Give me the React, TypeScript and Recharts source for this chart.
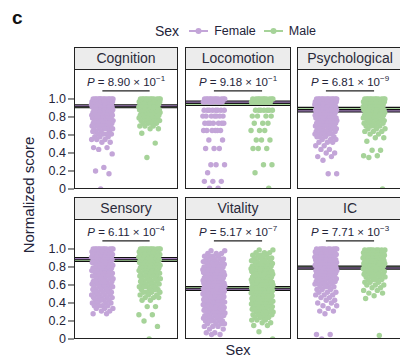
import React from "react";
import { ScatterChart, Scatter, XAxis, YAxis, ReferenceLine } from "recharts";

const facets = ["Cognition", "Locomotion", "Psychological", "Sensory", "Vitality", "IC"];
const pMantissa = ["8.90", "9.18", "6.81", "6.11", "5.17", "7.71"];
const pExponent = ["1", "1", "9", "4", "7", "3"];
const femaleMean = [0.925, 0.965, 0.868, 0.893, 0.552, 0.788];
const maleMean = [0.915, 0.94, 0.895, 0.872, 0.572, 0.8];
const yTicks = [0, 0.2, 0.4, 0.6, 0.8, 1.0];

// [score, number of people with that score]
const cognitionFemale = [
  [1.0, 14], [0.97, 12], [0.94, 12], [0.91, 11], [0.88, 10], [0.85, 10], [0.82, 9], [0.79, 9],
  [0.76, 8], [0.73, 7], [0.7, 6], [0.67, 5], [0.64, 4], [0.61, 4], [0.58, 3], [0.55, 3],
  [0.52, 2], [0.46, 2], [0.44, 1], [0.39, 1], [0.24, 1], [0.2, 1], [0.17, 1], [0.0, 1],
];
const cognitionMale = [
  [1.0, 12], [0.97, 11], [0.94, 10], [0.91, 10], [0.88, 9], [0.85, 8], [0.82, 7], [0.79, 6],
  [0.76, 5], [0.73, 4], [0.7, 3], [0.67, 2], [0.62, 1], [0.51, 1], [0.35, 1],
];
const locomotionFemale = [
  [1.0, 12], [0.967, 10], [0.875, 8], [0.81, 7], [0.73, 7], [0.65, 6], [0.544, 2], [0.45, 3],
  [0.27, 3], [0.18, 1], [0.085, 3], [0.01, 2],
];
const locomotionMale = [
  [1.0, 11], [0.967, 9], [0.875, 7], [0.81, 4], [0.73, 3], [0.65, 3], [0.544, 3], [0.45, 3],
  [0.27, 2], [0.18, 1], [0.01, 1],
];
const psychologicalFemale = [
  [1.0, 13], [0.97, 12], [0.94, 11], [0.91, 11], [0.88, 10], [0.85, 10], [0.82, 9], [0.79, 9],
  [0.76, 8], [0.73, 8], [0.7, 7], [0.67, 7], [0.64, 6], [0.61, 5], [0.58, 4], [0.55, 3],
  [0.52, 3], [0.48, 2], [0.44, 2], [0.4, 2], [0.36, 2], [0.32, 1], [0.17, 2],
];
const psychologicalMale = [
  [1.0, 12], [0.97, 11], [0.94, 10], [0.91, 10], [0.88, 9], [0.85, 8], [0.82, 8], [0.79, 7],
  [0.76, 6], [0.73, 5], [0.7, 4], [0.67, 3], [0.64, 3], [0.61, 2], [0.57, 2], [0.53, 1],
  [0.43, 2], [0.37, 2], [0.35, 1], [0.0, 1],
];
const sensoryFemale = [
  [1.0, 12], [0.97, 9], [0.94, 9], [0.91, 8], [0.88, 8], [0.85, 8], [0.82, 7], [0.79, 7],
  [0.76, 7], [0.73, 7], [0.7, 7], [0.67, 6], [0.64, 6], [0.61, 6], [0.58, 6], [0.55, 5],
  [0.52, 5], [0.49, 5], [0.46, 5], [0.43, 4], [0.4, 4], [0.37, 4], [0.34, 3], [0.31, 2], [0.28, 2],
];
const sensoryMale = [
  [1.0, 12], [0.97, 9], [0.94, 9], [0.91, 8], [0.88, 8], [0.85, 7], [0.82, 7], [0.79, 7],
  [0.76, 6], [0.73, 6], [0.7, 6], [0.67, 6], [0.64, 5], [0.61, 5], [0.58, 5], [0.55, 4],
  [0.52, 4], [0.49, 3], [0.46, 3], [0.43, 2], [0.36, 2], [0.27, 2], [0.2, 1], [0.14, 1], [0.0, 1],
];
const vitalityFemale = [
  [0.98, 2], [0.95, 3], [0.92, 4], [0.89, 5], [0.86, 6], [0.83, 7], [0.8, 7], [0.77, 8],
  [0.74, 8], [0.71, 9], [0.68, 9], [0.65, 9], [0.62, 10], [0.59, 10], [0.56, 10], [0.53, 10],
  [0.5, 10], [0.47, 9], [0.44, 9], [0.41, 9], [0.38, 8], [0.35, 8], [0.32, 7], [0.29, 7],
  [0.26, 6], [0.23, 5], [0.2, 5], [0.17, 4], [0.14, 3], [0.11, 2], [0.07, 2], [0.05, 2],
];
const vitalityMale = [
  [0.99, 2], [0.96, 3], [0.93, 4], [0.9, 5], [0.87, 6], [0.84, 7], [0.81, 7], [0.78, 8],
  [0.75, 8], [0.72, 9], [0.69, 9], [0.66, 9], [0.63, 10], [0.6, 10], [0.57, 10], [0.54, 10],
  [0.51, 10], [0.48, 9], [0.45, 9], [0.42, 9], [0.39, 8], [0.36, 8], [0.33, 7], [0.3, 6],
  [0.27, 5], [0.24, 4], [0.21, 3], [0.18, 2], [0.15, 2], [0.08, 1], [0.0, 1],
];
const icFemale = [
  [1.0, 10], [0.97, 11], [0.94, 11], [0.91, 11], [0.88, 10], [0.85, 10], [0.82, 10], [0.79, 9],
  [0.76, 9], [0.73, 8], [0.7, 8], [0.67, 7], [0.64, 6], [0.61, 5], [0.58, 4], [0.55, 3],
  [0.52, 3], [0.49, 3], [0.46, 2], [0.43, 2], [0.4, 2], [0.37, 2], [0.34, 1], [0.31, 2],
  [0.28, 1], [0.05, 2], [0.0, 1],
];
const icMale = [
  [0.99, 9], [0.96, 10], [0.93, 10], [0.9, 10], [0.87, 9], [0.84, 9], [0.81, 8], [0.78, 8],
  [0.75, 7], [0.72, 6], [0.69, 5], [0.66, 4], [0.63, 3], [0.6, 3], [0.57, 2], [0.54, 2],
  [0.51, 2], [0.48, 1], [0.45, 1], [0.04, 1],
];

const femaleBins = [cognitionFemale, locomotionFemale, psychologicalFemale, sensoryFemale, vitalityFemale, icFemale];
const maleBins = [cognitionMale, locomotionMale, psychologicalMale, sensoryMale, vitalityMale, icMale];

const PURPLE = "#c3a5d8";
const GREEN = "#a6d399";
const INK = "#24243a";
const FONT = "'Liberation Sans', Arial, sans-serif";

const COL_X = [74, 185, 297];
const COL_W = [104, 106, 106];
const ROW_Y = [47, 197];
const HEAD_H = 22;
const PLOT_H = 120;
const AXIS_W = 34;
const JITTER = 0.23;

// spread each group sideways like a jittered strip plot (golden-ratio steps, no randomness)
function toPoints(bins: number[][], group: number) {
  const pts: { pos: number; score: number }[] = [];
  let i = 0;
  bins.forEach(([v, n]) => {
    for (let k = 0; k < n; k++) {
      const f = (i * 0.618034 + 0.37) % 1;
      pts.push({ pos: group + JITTER * (2 * f - 1), score: v });
      i++;
    }
  });
  return pts;
}

const dot = (color: string) => (props: any) => (
  <circle cx={props.cx} cy={props.cy} r={2.7} fill={color} />
);

function Panel({ idx }: { idx: number }) {
  const col = idx % 3;
  const row = Math.floor(idx / 3);
  const x = COL_X[col];
  const w = COL_W[col];
  const top = ROW_Y[row];
  const withAxis = col === 0;
  const chartLeft = x - (withAxis ? AXIS_W : 0);
  const chartW = w + (withAxis ? AXIS_W : 0);

  return (
    <>
      <div style={{ position: "absolute", left: chartLeft, top: top + HEAD_H }}>
        <ScatterChart width={chartW} height={PLOT_H + 10} margin={{ top: 0, right: 0, bottom: 10, left: 0 }}>
          <XAxis type="number" dataKey="pos" domain={[-0.6, 1.6]} hide />
          <YAxis
            type="number"
            dataKey="score"
            domain={[0, 1.333]}
            allowDataOverflow
            ticks={yTicks}
            interval={0}
            hide={!withAxis}
            width={AXIS_W}
            axisLine={false}
            tickSize={6}
            tickLine={{ stroke: "#222" }}
            tick={{ fontSize: 12.5, fill: INK, fontFamily: FONT }}
            tickFormatter={(v: number) => (v === 0 ? "0" : v.toFixed(1))}
          />
          <Scatter data={toPoints(femaleBins[idx], 0)} fill={PURPLE} shape={dot(PURPLE)} isAnimationActive={false} />
          <Scatter data={toPoints(maleBins[idx], 1)} fill={GREEN} shape={dot(GREEN)} isAnimationActive={false} />
          <ReferenceLine y={maleMean[idx]} stroke="#111" strokeWidth={3.2} />
          <ReferenceLine y={maleMean[idx]} stroke={GREEN} strokeWidth={1.1} />
          <ReferenceLine y={femaleMean[idx]} stroke="#111" strokeWidth={3.2} />
          <ReferenceLine y={femaleMean[idx]} stroke="#a27fbb" strokeWidth={1.1} />
          <ReferenceLine segment={[{ x: 0, y: 1.09 }, { x: 1, y: 1.09 }]} stroke="#222" strokeWidth={1.3} />
        </ScatterChart>
      </div>
      <div
        style={{
          position: "absolute",
          left: x,
          top,
          width: w,
          height: HEAD_H + PLOT_H,
          border: "1.3px solid #222",
          boxSizing: "border-box",
          pointerEvents: "none",
        }}
      >
        <div
          style={{
            height: HEAD_H,
            boxSizing: "border-box",
            background: "#ececec",
            borderBottom: "1.3px solid #222",
            textAlign: "center",
            lineHeight: `${HEAD_H - 1}px`,
            fontSize: 14,
            color: "#2a2a3a",
            whiteSpace: "nowrap",
            overflow: "hidden",
          }}
        >
          {facets[idx]}
        </div>
      </div>
      <div
        style={{
          position: "absolute",
          left: x,
          top: top + HEAD_H + 6,
          width: w,
          textAlign: "center",
          fontSize: 11.5,
          lineHeight: "14px",
          color: INK,
          whiteSpace: "nowrap",
        }}
      >
        <i>P</i> = {pMantissa[idx]} × 10
        <sup style={{ fontSize: 8, verticalAlign: "top", position: "relative", top: -3 }}>−{pExponent[idx]}</sup>
      </div>
    </>
  );
}

function LegendKey({ color }: { color: string }) {
  return (
    <svg width={19} height={8} style={{ marginRight: 6 }}>
      <line x1={0} y1={4} x2={19} y2={4} stroke={color} strokeWidth={2} />
      <circle cx={9.5} cy={4} r={3} fill={color} />
    </svg>
  );
}

export default function App() {
  return (
    <div style={{ position: "fixed", left: 0, top: 0, width: 400, height: 359, background: "#fff", fontFamily: FONT, overflow: "hidden" }}>
      <div style={{ position: "absolute", left: 12, top: 7, fontSize: 19, fontWeight: 900, color: "#111" }}>c</div>

      <div style={{ position: "absolute", left: 155, top: 23, display: "flex", alignItems: "center", color: INK, whiteSpace: "nowrap" }}>
        <span style={{ fontSize: 14, marginRight: 10 }}>Sex</span>
        <LegendKey color={PURPLE} />
        <span style={{ fontSize: 12.5, marginRight: 8 }}>Female</span>
        <LegendKey color={GREEN} />
        <span style={{ fontSize: 12.5 }}>Male</span>
      </div>

      <div
        style={{
          position: "absolute",
          left: 28,
          top: 195,
          transform: "translate(-50%, -50%) rotate(-90deg)",
          fontSize: 15,
          color: INK,
          whiteSpace: "nowrap",
        }}
      >
        Normalized score
      </div>

      {facets.map((_, i) => (
        <Panel key={i} idx={i} />
      ))}

      <div style={{ position: "absolute", left: 185, width: 106, top: 342, textAlign: "center", fontSize: 14.5, lineHeight: "17px", color: INK, zIndex: 2 }}>
        Sex
      </div>
    </div>
  );
}
